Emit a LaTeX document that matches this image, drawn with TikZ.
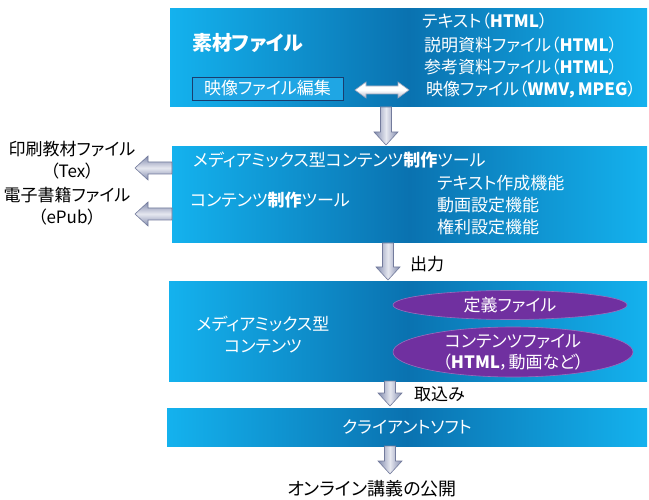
\documentclass[tikz,border=0pt]{standalone}
\usepackage{fontspec}
\setmainfont{Noto Sans CJK JP}[RawFeature=+palt]
\usetikzlibrary{shapes.geometric,calc}
\definecolor{pnlEdge}{HTML}{14B2EE}
\definecolor{pnlMid}{HTML}{0A72B0}
\definecolor{ellFill}{HTML}{7030A0}
\definecolor{arrDark}{HTML}{8089AC}
\definecolor{arrLight}{HTML}{E6E8F0}
\definecolor{arrLine}{HTML}{737B9C}
\definecolor{editFill}{HTML}{1FA6E4}
\definecolor{editLine}{HTML}{1A3D6E}
\tikzset{
  panel/.style={draw=none,left color=pnlEdge,right color=pnlEdge,middle color=pnlMid,inner sep=0pt},
  wtxt/.style={text=white,inner sep=0pt,font=\fontsize{17}{22}\selectfont},
  btxt/.style={text=black,inner sep=0pt,font=\fontsize{17}{22}\selectfont,align=center},
  vblock/.style={draw=arrLine,line width=0.6pt,left color=arrDark,right color=arrDark,middle color=arrLight},
  hblock/.style={draw=arrLine,line width=0.6pt,top color=arrDark,bottom color=arrDark,middle color=arrLight},
  dblock/.style={draw=arrLine!70,line width=0.6pt,top color=white,bottom color=arrDark!60,middle color=white},
  ovalbox/.style={ellipse,fill=ellFill,draw=ellFill!70!white,line width=0.6pt,inner sep=0pt},
}
% down block arrow: centre x, top y, tip y
\newcommand\dnblock[4]{%
  \coordinate (#1) at (#2,#4);
  \path[vblock] (#2-5.5,#3) -- (#2+5.5,#3) -- (#2+5.5,#4+13) -- (#2+12,#4+13) -- (#2,#4)
     -- (#2-12,#4+13) -- (#2-5.5,#4+13) -- cycle;}
% left block arrow: tail x, tip x, y
\newcommand\ltblock[4]{%
  \coordinate (#1) at (#3,#4);
  \path[hblock] (#2,#4+6) -- (#3+13,#4+6) -- (#3+13,#4+12) -- (#3,#4) -- (#3+13,#4-12)
     -- (#3+13,#4-6) -- (#2,#4-6) -- cycle;}
\begin{document}
\begin{tikzpicture}[x=1pt,y=1pt]
\useasboundingbox (0,0) rectangle (649,-500);
% panels
\node[panel,minimum width=477pt,minimum height=98pt] (b1) at (408.5,-58) {};
\node[panel,minimum width=475pt,minimum height=96pt] (b2) at (409.5,-195) {};
\node[panel,minimum width=478pt,minimum height=99pt] (b3) at (408,-331.5) {};
\node[panel,minimum width=480pt,minimum height=38pt] (b4) at (407,-427) {};
% panel 1 content
\node[wtxt,anchor=west,font=\fontsize{20}{24}\selectfont\bfseries] (sozai) at (192,-43) {素材ファイル};
\node[draw=editLine,fill=editFill,line width=0.8pt,minimum width=151pt,minimum height=23pt,inner sep=0pt] (edit) at (267.5,-88.5) {};
\node[wtxt] (editt) at (edit.center) {映像ファイル編集};
\node[wtxt,anchor=west] (l1) at (422,-21) {テキスト（\textbf{HTML}）};
\node[wtxt,anchor=west] (l2) at (424,-45) {説明資料ファイル（\textbf{HTML}）};
\node[wtxt,anchor=west] (l3) at (424,-67) {参考資料ファイル（\textbf{HTML}）};
\node[wtxt,anchor=west] (l4) at (426,-90) {映像ファイル（\textbf{WMV，MPEG}）};
\coordinate (dl) at (355,-90);
\coordinate (dr) at (409,-90);
\path[dblock] (dl) -- ++(11,8) -- ++(0,-4) -- ($(dr)+(-11,4)$) -- ++(0,4) -- (dr) -- ++(-11,-8) -- ++(0,4)
   -- ($(dl)+(11,-4)$) -- ++(0,-4) -- cycle;
% panel 2 content
\node[wtxt,anchor=west] (t21) at (193,-160) {メディアミックス型コンテンツ\textbf{制作}ツール};
\node[wtxt,anchor=west] (t22) at (190,-200) {コンテンツ\textbf{制作}ツール};
\node[wtxt,anchor=west] (f1) at (437,-183) {テキスト作成機能};
\node[wtxt,anchor=west] (f2) at (437,-205) {動画設定機能};
\node[wtxt,anchor=west] (f3) at (437,-227) {権利設定機能};
% left outputs
\node[btxt] (tex) at (72,-160) {印刷教材ファイル\\（Tex）};
\node[btxt] (epub) at (67,-206) {電子書籍ファイル\\（ePub）};
\ltblock{la1}{172}{135}{-168}
\ltblock{la2}{172}{135}{-214}
% panel 3 content
\node[wtxt,align=center] (mm) at (263,-335) {メディアミックス型\\コンテンツ};
\node[ovalbox,minimum width=234pt,minimum height=29pt] (e1) at (510,-305) {};
\node[wtxt] (e1t) at (e1.center) {定義ファイル};
\node[ovalbox,minimum width=240pt,minimum height=50pt] (e2) at (513,-352) {};
\node[wtxt,align=center,font=\fontsize{17}{21}\selectfont] (e2t) at (e2.center) {コンテンツファイル\\（\textbf{HTML}，動画など）};
% panel 4 content
\node[wtxt] (client) at (b4.center) {クライアントソフト};
% down arrows
\dnblock{d1}{386}{-107}{-145}
\dnblock{d2}{388}{-243}{-280}
\dnblock{d3}{390}{-381}{-406}
\dnblock{d4}{390}{-446}{-474}
\node[btxt,anchor=west] (out) at (410,-264) {出力};
\node[btxt,anchor=west] (imp) at (414,-394) {取込み};
\node[btxt,font=\fontsize{18}{22}\selectfont] (pub) at (372,-489) {オンライン講義の公開};
\end{tikzpicture}
\end{document}
